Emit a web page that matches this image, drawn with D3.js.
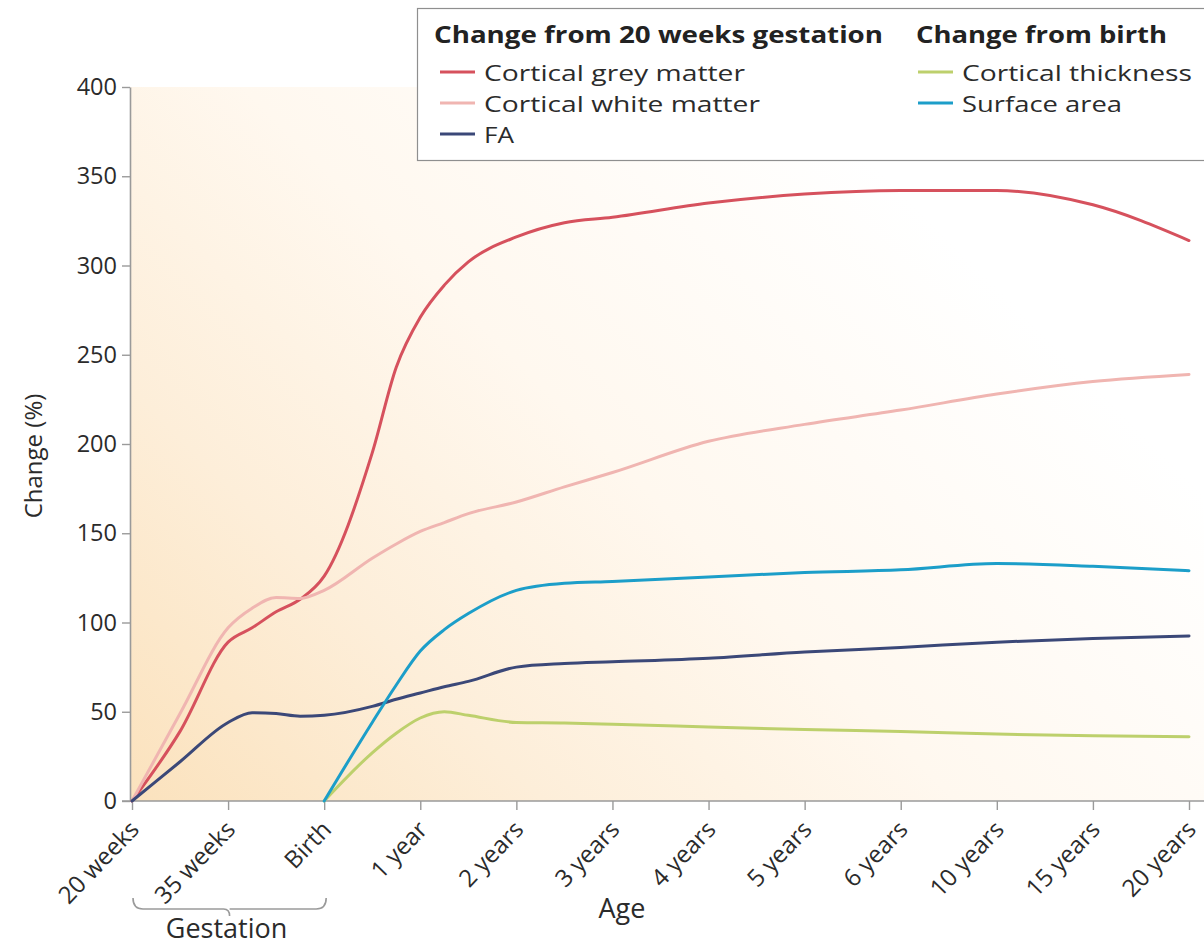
<!DOCTYPE html>
<html>
<head>
<meta charset="utf-8">
<script src="https://cdn.jsdelivr.net/npm/d3@7"></script>
<style>
  body { margin: 0; background: #fff; }
  svg { display: block; font-family: "Open Sans", "Noto Sans", sans-serif; }
</style>
</head>
<body>
<svg id="chart" width="1204" height="947"></svg>
<script>
// Age categories along the x axis
const ageLabels = ["20 weeks", "35 weeks", "Birth", "1 year", "2 years", "3 years",
  "4 years", "5 years", "6 years", "10 years", "15 years", "20 years"];

// Sample positions, in units of the category index above
const samplePos = [0, 0.5, 1, 1.25, 1.5, 1.75, 2, 2.5, 2.75, 3, 3.25, 3.5, 4, 4.5, 5, 6, 7, 8, 9, 10, 11];

// Percentage change at each sample position (null = not measured)
const greyMatter  = [0, 39, 89, 97, 106, 113, 126, 195, 243, 271, 289, 302, 316, 324, 327, 335, 340, 342, 342, 334, 314];
const whiteMatter = [0, 49, 97, 108, 114, 113.5, 118, 136, 144, 151, 156, 161, 167.5, 176, 184, 201.5, 211, 219, 228, 235, 239];
const faValues    = [0, 22, 44, 49.5, 49, 47.5, 48, 53, 57, 60.5, 64, 67, 75, 77, 78, 80, 83.5, 86, 89, 91, 92.5];
const thickness   = [null, null, null, null, null, null, 0, 27, 38, 46.5, 50, 48, 44, 43.7, 43, 41.5, 40, 39, 37.5, 36.5, 36];
const surfaceArea = [null, null, null, null, null, null, 0, 44, 65, 84, 96, 105, 118, 122, 123, 125.5, 128, 129.5, 133, 131.5, 129];

const yTicks = [0, 50, 100, 150, 200, 250, 300, 350, 400];

const series = [
  { name: "Cortical grey matter",  values: greyMatter,  color: "#d6515d" },
  { name: "Cortical white matter", values: whiteMatter, color: "#f0b5b1" },
  { name: "FA",                    values: faValues,    color: "#3b4878" },
  { name: "Cortical thickness",    values: thickness,   color: "#bdd06c" },
  { name: "Surface area",          values: surfaceArea, color: "#1c9ec9" }
];

const svg = d3.select("#chart");
const textColor = "#2b2b2b";
const axisColor = "#9a9a9a";

const x = d3.scaleLinear().domain([0, ageLabels.length - 1]).range([132, 1189]);
const y = d3.scaleLinear().domain([0, 400]).range([801, 87]);

// Warm background wash fading diagonally from the lower-left corner
const defs = svg.append("defs");
const grad = defs.append("linearGradient")
  .attr("id", "warm")
  .attr("gradientUnits", "userSpaceOnUse")
  .attr("x1", 130).attr("y1", 801).attr("x2", 820).attr("y2", 111);
grad.append("stop").attr("offset", 0).attr("stop-color", "#fbe2bd");
grad.append("stop").attr("offset", 0.3).attr("stop-color", "#fdeed9");
grad.append("stop").attr("offset", 0.6).attr("stop-color", "#fff8ef");
grad.append("stop").attr("offset", 1).attr("stop-color", "#ffffff");

svg.append("rect")
  .attr("x", 130).attr("y", 87).attr("width", 1074).attr("height", 714)
  .attr("fill", "url(#warm)");

// Y axis
const yAxis = svg.append("g")
  .attr("transform", "translate(130,0)")
  .call(d3.axisLeft(y).tickValues(yTicks).tickSize(8).tickSizeOuter(0).tickPadding(5));
yAxis.select(".domain").attr("stroke", axisColor).attr("stroke-width", 1.6);
yAxis.selectAll(".tick line").attr("stroke", axisColor).attr("stroke-width", 1.4);
yAxis.selectAll(".tick text")
  .attr("fill", textColor)
  .style("font-size", "23.5px")
  .style("font-family", "'Open Sans', sans-serif");

// X axis
const xAxis = svg.append("g")
  .attr("transform", "translate(0,801)")
  .call(d3.axisBottom(x)
    .tickValues(d3.range(ageLabels.length))
    .tickFormat(i => ageLabels[i])
    .tickSize(9).tickSizeOuter(0));
xAxis.select(".domain").remove();
xAxis.selectAll(".tick line").attr("stroke", axisColor).attr("stroke-width", 1.4);
xAxis.selectAll(".tick text")
  .attr("fill", textColor)
  .attr("x", 0).attr("y", 0).attr("dy", "0.35em")
  .attr("transform", "translate(2,24) rotate(-46)")
  .style("text-anchor", "end")
  .style("font-size", "24px")
  .style("font-family", "'Open Sans', sans-serif");
xAxis.append("line")
  .attr("x1", 122).attr("x2", 1204).attr("y1", 0).attr("y2", 0)
  .attr("stroke", axisColor).attr("stroke-width", 1.6);

// Curves
const line = d3.line()
  .defined(d => d[1] !== null)
  .x(d => x(d[0]))
  .y(d => y(d[1]))
  .curve(d3.curveMonotoneX);

svg.append("g").selectAll("path")
  .data(series)
  .join("path")
  .attr("d", s => line(samplePos.map((p, i) => [p, s.values[i]])))
  .attr("fill", "none")
  .attr("stroke", s => s.color)
  .attr("stroke-width", 3)
  .attr("stroke-linejoin", "round")
  .attr("stroke-linecap", "round");

// Axis titles
svg.append("text")
  .attr("transform", "translate(42,456) rotate(-90)")
  .attr("text-anchor", "middle")
  .attr("fill", textColor)
  .style("font-size", "24px")
  .text("Change (%)");

svg.append("text")
  .attr("x", 622).attr("y", 918)
  .attr("text-anchor", "middle")
  .attr("fill", textColor)
  .style("font-size", "27px")
  .text("Age");

// Gestation bracket under the first three ticks
const bx0 = x(0) + 1, bx1 = x(2) + 2, bmid = (bx0 + bx1) / 2;
svg.append("path")
  .attr("d", `M${bx0},898 Q${bx0},909 ${bx0 + 10},909 L${bmid - 6},909 Q${bmid},909 ${bmid},916 ` +
             `M${bmid},909 Q${bmid},909 ${bmid + 6},909 L${bx1 - 10},909 Q${bx1},909 ${bx1},898`)
  .attr("fill", "none")
  .attr("stroke", axisColor)
  .attr("stroke-width", 1.6);
svg.append("text")
  .attr("x", bmid - 3).attr("y", 938)
  .attr("text-anchor", "middle")
  .attr("fill", textColor)
  .style("font-size", "27px")
  .text("Gestation");

// Legend
const legend = svg.append("g");
legend.append("rect")
  .attr("x", 417.5).attr("y", 8.5).attr("width", 800).attr("height", 152)
  .attr("fill", "#fff").attr("stroke", "#8f8f8f").attr("stroke-width", 1.2);

const groups = [
  { title: "Change from 20 weeks gestation", x: 434, titleW: 449, lineX: 440, textX: 484,
    widths: [261, 276, 30], items: series.slice(0, 3) },
  { title: "Change from birth", x: 916, titleW: 251, lineX: 918, textX: 962,
    widths: [230, 160], items: series.slice(3) }
];
groups.forEach(g => {
  legend.append("text")
    .attr("x", g.x).attr("y", 43)
    .attr("fill", "#222")
    .attr("textLength", g.titleW)
    .attr("lengthAdjust", "spacingAndGlyphs")
    .style("font-size", "24px")
    .style("font-weight", "700")
    .text(g.title);
  g.items.forEach((s, i) => {
    const cy = 72 + i * 31;
    legend.append("line")
      .attr("x1", g.lineX).attr("x2", g.lineX + 35)
      .attr("y1", cy).attr("y2", cy)
      .attr("stroke", s.color).attr("stroke-width", 3);
    legend.append("text")
      .attr("x", g.textX).attr("y", cy + 8.5)
      .attr("fill", textColor)
      .attr("textLength", g.widths[i])
      .attr("lengthAdjust", "spacingAndGlyphs")
      .style("font-size", "22.5px")
      .text(s.name);
  });
});
</script>
</body>
</html>
